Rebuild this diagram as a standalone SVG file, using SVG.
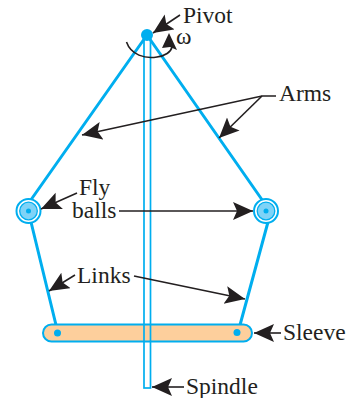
<svg xmlns="http://www.w3.org/2000/svg" width="346" height="398" viewBox="0 0 346 398">
<style>
.b{fill:none;stroke:#00aeef;stroke-width:3;stroke-linecap:round}
.t{font-family:"Liberation Serif",serif;font-size:23.5px;fill:#231f20}
.l{fill:none;stroke:#231f20;stroke-width:1.6}
.h{fill:#231f20}
</style>
<defs>
<marker id="a" markerUnits="userSpaceOnUse" markerWidth="22" markerHeight="20" refX="20" refY="9" orient="auto"><path class="h" d="M0 0L20 9L0 18L4 9Z"/></marker>
</defs>
<g id="spindle"><rect x="144" y="35" width="6.500" height="353" fill="#fff" stroke="#00aeef" stroke-width="1.700"/></g>
<g id="arms"><path class="b" d="M147 35L28 204M147 35L265 204"/></g>
<g id="links"><path class="b" d="M31 222L56 325M268 222L240 325"/></g>
<g id="sleeve">
<rect x="43" y="324.500" width="209" height="17" rx="8.500" fill="#fdcf9c" stroke="#00aeef" stroke-width="2"/>
<path d="M144 324.500V341.500M150.500 324.500V341.500" stroke="#00aeef" stroke-width="1.700"/>
<circle cx="57.500" cy="333" r="3.500" fill="#00aeef"/><circle cx="237" cy="332.500" r="3.500" fill="#00aeef"/>
</g>
<g id="pivot"><circle cx="147" cy="35" r="6" fill="#00aeef"/></g>
<g id="ball-left">
<circle cx="28.500" cy="211" r="12" fill="#fff" stroke="#00aeef" stroke-width="2"/>
<circle cx="28.500" cy="211" r="8.800" fill="#7fd3f7" stroke="#00aeef" stroke-width="1.300"/>
<circle cx="28.500" cy="211" r="2.500" fill="#00aeef"/>
</g>
<g id="ball-right">
<circle cx="266" cy="211" r="12" fill="#fff" stroke="#00aeef" stroke-width="2"/>
<circle cx="266" cy="211" r="8.800" fill="#7fd3f7" stroke="#00aeef" stroke-width="1.300"/>
<circle cx="266" cy="211" r="2.500" fill="#00aeef"/>
</g>
<g id="connectors">
<path class="l" d="M126.500 42C131 55 145 59 157 57C165 56 171 52 172 47"/>
<path class="h" d="M169 33L177 50L170 47L162 48Z"/>
<path class="l" d="M180 15L153 33" marker-end="url(#a)"/>
<path class="l" d="M276 96H262L82 135" marker-end="url(#a)"/>
<path class="l" d="M262 96L219 138" marker-end="url(#a)"/>
<path class="l" d="M77 193L41 209" marker-end="url(#a)"/>
<path class="l" d="M119 211H253" marker-end="url(#a)"/>
<path class="l" d="M75 275L49 291" marker-end="url(#a)"/>
<path class="l" d="M134 276L245 299" marker-end="url(#a)"/>
<path class="l" d="M281 333H254" marker-end="url(#a)"/>
<path class="l" d="M184 387H152" marker-end="url(#a)"/>
</g>
<g id="labels">
<text class="t" x="183" y="23">Pivot</text>
<text class="t" x="176" y="44">ω</text>
<text class="t" x="279" y="101">Arms</text>
<text class="t" x="79" y="195">Fly</text>
<text class="t" x="72" y="218">balls</text>
<text class="t" x="77" y="283">Links</text>
<text class="t" x="283" y="340">Sleeve</text>
<text class="t" x="186" y="394">Spindle</text>
</g>
</svg>
